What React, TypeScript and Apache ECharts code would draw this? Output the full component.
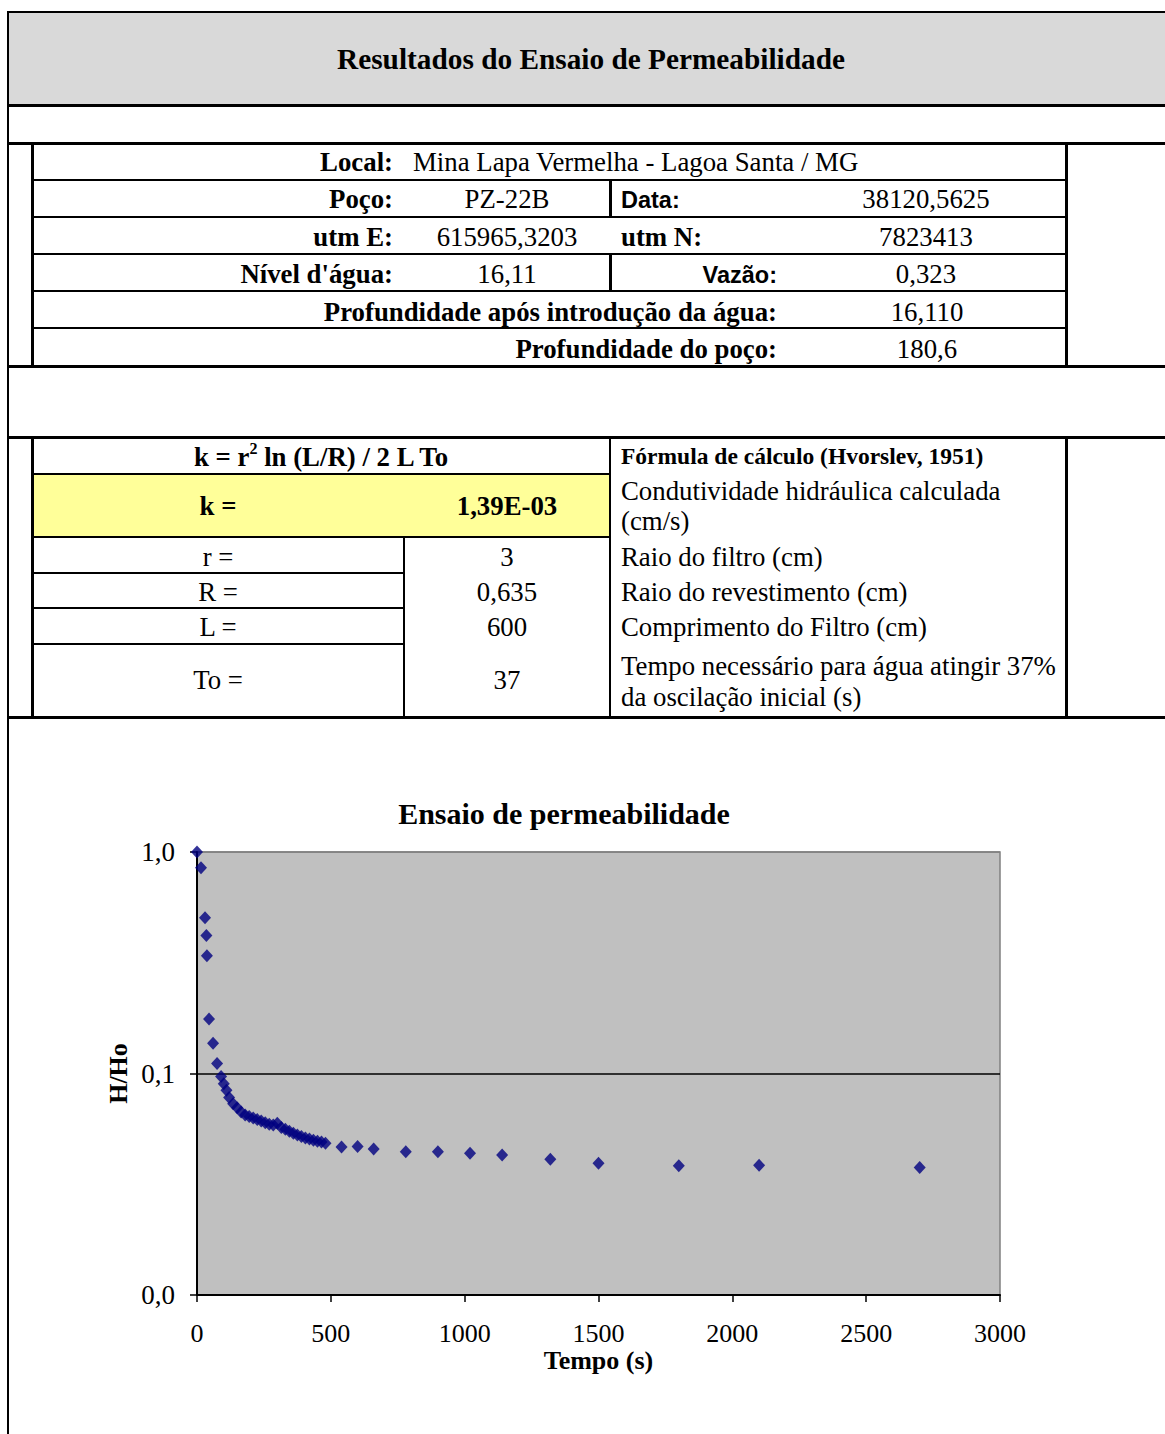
import React, { useEffect, useRef } from "react";
import * as echarts from "echarts";

// ---- Chart data ----
const times = [
  0, 15, 30, 35, 37, 45, 60, 75, 90, 100, 110, 120, 135, 150, 165, 180, 195, 210, 225, 240,
  255, 270, 285, 300, 315, 330, 345, 360, 375, 390, 405, 420, 435, 450, 465, 480, 540, 600,
  660, 780, 900, 1020, 1140, 1320, 1500, 1800, 2100, 2700,
];
const hRatios = [
  1.0, 0.85, 0.505, 0.42, 0.34, 0.176, 0.137, 0.111, 0.097, 0.09, 0.084, 0.078, 0.073, 0.07,
  0.067, 0.065, 0.064, 0.063, 0.062, 0.061, 0.06, 0.059, 0.0585, 0.0596, 0.057, 0.056, 0.0548,
  0.0538, 0.0528, 0.052, 0.0512, 0.0506, 0.05, 0.0495, 0.049, 0.0484, 0.0466, 0.0468, 0.0456,
  0.0443, 0.0443, 0.0436, 0.0429, 0.041, 0.0393, 0.0383, 0.0385, 0.0376,
];
const xTicks = { min: 0, max: 3000, interval: 500 };
const yRange = { min: 0.01, max: 1 };

const chartTitle = "Ensaio de permeabilidade";
const xName = "Tempo (s)";
const yName = "H/Ho";

// ---- Table texts ----
const headerTitle = "Resultados do Ensaio de Permeabilidade";
const paramLabels = ["r =", "R =", "L =", "To ="];
const paramValues = ["3", "0,635", "600", "37"];

const SERIF = '"Liberation Serif", "Times New Roman", serif';
const SANS = '"Liberation Sans", Arial, sans-serif';
const FS = 26.8;

type TP = {
  x: number;
  y: number;
  a?: "l" | "c" | "r";
  s?: number;
  b?: boolean;
  f?: string;
  children: React.ReactNode;
};

function T({ x, y, a = "l", s = FS, b = false, f = SERIF, children }: TP) {
  const tx = a === "l" ? "0" : a === "c" ? "-50%" : "-100%";
  return (
    <div
      style={{
        position: "absolute",
        left: x,
        top: y,
        transform: `translate(${tx}, -50%)`,
        fontFamily: f,
        fontSize: s,
        fontWeight: b ? "bold" : "normal",
        whiteSpace: "nowrap",
        lineHeight: 1.15,
        color: "#000",
      }}
    >
      {children}
    </div>
  );
}

function H({ x1, x2, y, w = 2 }: { x1: number; x2: number; y: number; w?: number }) {
  return (
    <div
      style={{ position: "absolute", left: x1, top: y - w / 2, width: x2 - x1, height: w, background: "#000" }}
    />
  );
}
function V({ x, y1, y2, w = 2 }: { x: number; y1: number; y2: number; w?: number }) {
  return (
    <div
      style={{ position: "absolute", left: x - w / 2, top: y1, width: w, height: y2 - y1, background: "#000" }}
    />
  );
}

function Chart() {
  const ref = useRef<HTMLDivElement>(null);
  useEffect(() => {
    if (!ref.current) return;
    const chart = echarts.init(ref.current, null, { renderer: "svg" });
    const yLabel = (v: number) => v.toFixed(1).replace(".", ",");
    const xLabel = (v: number) => String(v);
    chart.setOption({
      animation: false,
      backgroundColor: "transparent",
      graphic: [
        {
          type: "text",
          x: 564,
          y: 96,
          style: {
            text: chartTitle,
            fill: "#000",
            font: `bold 30px ${SERIF}`,
            textAlign: "center",
            textVerticalAlign: "middle",
          },
        },
      ],
      grid: {
        left: 197,
        right: 165,
        top: 135,
        bottom: 139,
        show: true,
        backgroundColor: "#C0C0C0",
        borderColor: "#808080",
        borderWidth: 1.5,
        outerBoundsMode: "none",
      },
      xAxis: {
        type: "value",
        min: xTicks.min,
        max: xTicks.max,
        interval: xTicks.interval,
        name: xName,
        nameLocation: "middle",
        nameGap: 52,
        nameMoveOverlap: false,
        nameTextStyle: { fontFamily: SERIF, fontSize: 26, fontWeight: "bold", color: "#000" },
        axisLine: { show: true, onZero: false, lineStyle: { color: "#000", width: 2 } },
        axisTick: { show: true, inside: false, length: 7, lineStyle: { color: "#000", width: 1.5 } },
        axisLabel: { margin: 25, fontFamily: SERIF, fontSize: 26, color: "#000", formatter: xLabel },
        splitLine: { show: false },
      },
      yAxis: {
        type: "log",
        logBase: 10,
        min: yRange.min,
        max: yRange.max,
        name: yName,
        nameLocation: "middle",
        nameGap: 66,
        nameMoveOverlap: false,
        nameRotate: 90,
        nameTextStyle: { fontFamily: SERIF, fontSize: 26, fontWeight: "bold", color: "#000" },
        axisLine: { show: true, onZero: false, lineStyle: { color: "#000", width: 2 } },
        axisTick: { show: true, inside: false, length: 7, lineStyle: { color: "#000", width: 1.5 } },
        axisLabel: { margin: 22, fontFamily: SERIF, fontSize: 27, color: "#000", formatter: yLabel },
        splitLine: { show: true, lineStyle: { color: ["#000", "#000", "#808080"], width: 1.5 } },
      },
      series: [
        {
          type: "scatter",
          data: times.map((t, i) => [t, hRatios[i]]),
          symbol: "diamond",
          symbolSize: [12, 13],
          itemStyle: { color: "#000080" },
          z: 5,
        },
      ],
    });
    return () => chart.dispose();
  }, []);
  return <div ref={ref} style={{ position: "absolute", left: 0, top: 717, width: 1165, height: 717 }} />;
}

export default function App() {
  const rowsY = [162, 199, 237, 274, 312, 349];
  const pY = [557, 592, 627, 680];
  return (
    <div
      style={{
        position: "absolute",
        left: 0,
        top: 0,
        width: 1165,
        height: 1434,
        overflow: "hidden",
        background: "#fff",
      }}
    >
      {/* header */}
      <div style={{ position: "absolute", left: 8, top: 12, width: 1157, height: 93, background: "#D9D9D9" }} />
      <T x={591} y={60} a="c" s={29.3} b>
        {headerTitle}
      </T>

      {/* table 1 */}
      <T x={393} y={rowsY[0]} a="r" b>Local:</T>
      <T x={413} y={rowsY[0]}>Mina Lapa Vermelha - Lagoa Santa / MG</T>
      <T x={393} y={rowsY[1]} a="r" b>Poço:</T>
      <T x={507} y={rowsY[1]} a="c">PZ-22B</T>
      <T x={621} y={rowsY[1] + 2} b f={SANS} s={23.5}>Data:</T>
      <T x={926} y={rowsY[1]} a="c">38120,5625</T>
      <T x={393} y={rowsY[2]} a="r" b>utm E:</T>
      <T x={507} y={rowsY[2]} a="c">615965,3203</T>
      <T x={621} y={rowsY[2]} b>utm N:</T>
      <T x={926} y={rowsY[2]} a="c">7823413</T>
      <T x={393} y={rowsY[3]} a="r" b>Nível d'água:</T>
      <T x={507} y={rowsY[3]} a="c">16,11</T>
      <T x={777} y={rowsY[3] + 2} a="r" b f={SANS} s={23.5}>Vazão:</T>
      <T x={926} y={rowsY[3]} a="c">0,323</T>
      <T x={777} y={rowsY[4]} a="r" b>Profundidade após introdução da água:</T>
      <T x={927} y={rowsY[4]} a="c">16,110</T>
      <T x={777} y={rowsY[5]} a="r" b>Profundidade do poço:</T>
      <T x={927} y={rowsY[5]} a="c">180,6</T>

      {/* table 2 */}
      <div style={{ position: "absolute", left: 32, top: 474, width: 578, height: 63, background: "#FFFF99" }} />
      <T x={321} y={457} a="c" b>
        k = r<sup style={{ fontSize: "60%", verticalAlign: "0.7em", lineHeight: 0 }}>2</sup> ln (L/R) / 2 L To
      </T>
      <T x={621} y={457} b s={23.5}>Fórmula de cálculo (Hvorslev, 1951)</T>
      <T x={218} y={506} a="c" b>k =</T>
      <T x={507} y={506} a="c" b>1,39E-03</T>
      <T x={621} y={491}>Condutividade hidráulica calculada</T>
      <T x={621} y={521}>(cm/s)</T>
      {paramLabels.map((l, i) => (
        <T key={"l" + i} x={218} y={pY[i]} a="c">{l}</T>
      ))}
      {paramValues.map((v, i) => (
        <T key={"v" + i} x={507} y={pY[i]} a="c">{v}</T>
      ))}
      <T x={621} y={557}>Raio do filtro (cm)</T>
      <T x={621} y={592}>Raio do revestimento (cm)</T>
      <T x={621} y={627}>Comprimento do Filtro (cm)</T>
      <T x={621} y={666}>Tempo necessário para água atingir 37%</T>
      <T x={621} y={697}>da oscilação inicial (s)</T>

      <Chart />

      {/* lines */}
      <H x1={7} x2={1165} y={12} w={2} />
      <V x={8} y1={11} y2={1434} w={2} />
      <H x1={7} x2={1165} y={105} w={3} />
      <H x1={7} x2={1165} y={143} w={3} />
      {[180, 217, 254, 291, 328].map((y) => (
        <H key={y} x1={32} x2={1066} y={y} w={2} />
      ))}
      <H x1={7} x2={1165} y={366} w={3} />
      <V x={32} y1={142} y2={366} w={3} />
      <V x={1066} y1={142} y2={366} w={3} />
      <V x={610} y1={180} y2={217} w={3} />
      <V x={610} y1={254} y2={291} w={3} />

      <H x1={7} x2={1165} y={437} w={3} />
      <H x1={32} x2={610} y={474} w={2} />
      <H x1={32} x2={610} y={537} w={2} />
      {[573, 608, 644].map((y) => (
        <H key={y} x1={32} x2={404} y={y} w={2} />
      ))}
      <V x={32} y1={437} y2={717} w={3} />
      <V x={404} y1={537} y2={717} w={2} />
      <V x={610} y1={437} y2={717} w={2} />
      <V x={1066} y1={437} y2={717} w={3} />
      <H x1={7} x2={1165} y={717} w={3} />
    </div>
  );
}
